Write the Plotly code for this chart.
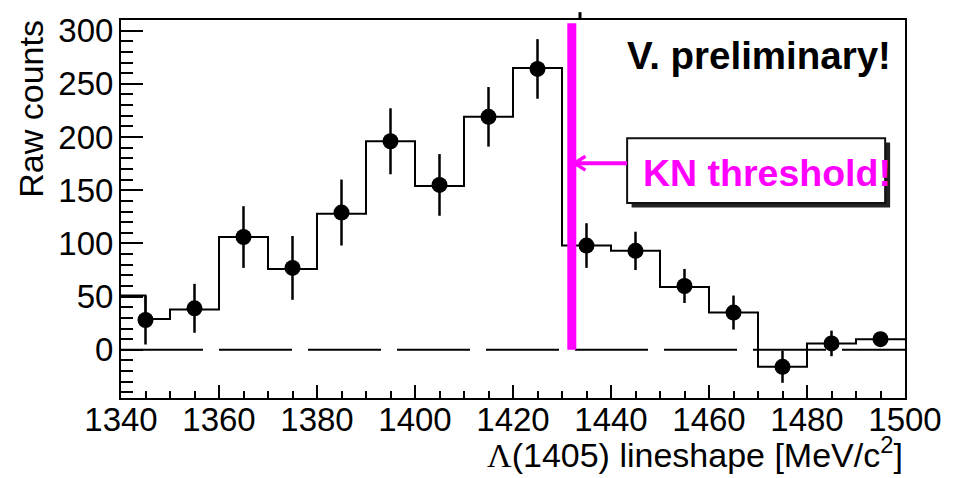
import plotly.graph_objects as go

# ---------------- data ----------------
bin_centers = [1345, 1355, 1365, 1375, 1385, 1395, 1405, 1415, 1425,
               1435, 1445, 1455, 1465, 1475, 1485, 1495]
counts = [28, 39, 106, 77, 129, 196, 155, 219, 264,
          98, 93, 60, 35, -16, 6, 10]
count_errors = [23, 23, 29, 30, 31, 31, 29, 28, 28,
                21, 18, 16, 16, 15, 12, 6]

hist_edges = [1340, 1345, 1350, 1360, 1370, 1380, 1390, 1400, 1410, 1420,
              1430, 1440, 1450, 1460, 1470, 1480, 1490, 1500]
hist_values = [51, 29, 38, 106, 76, 128, 196, 154, 219, 265,
               98, 93, 59, 35, -16, 6, 10]

threshold_mass = 1432
threshold_top = 307

x_range = [1340, 1500]
y_range = [-45.3, 310]

# ---------------- layout helpers (pixel -> paper) ----------------
W, H = 954, 478
PL, PR, PT, PB = 121, 911, 14, 398


def pxx(p):
    return (p - PL) / (PR - PL)


def pxy(p):
    return (PB - p) / (PB - PT)


FONT = "Liberation Sans, Arial, Helvetica, sans-serif"
MAGENTA = "#ff00ff"

fig = go.Figure()

# dashed zero line
dash = "82px,16px," + ",".join(["73px,16px"] * 10)
fig.add_trace(go.Scatter(x=x_range, y=[0, 0], mode="lines",
                         line=dict(color="black", width=2, dash=dash),
                         hoverinfo="skip", showlegend=False))

# step histogram
fig.add_trace(go.Scatter(x=hist_edges, y=hist_values + [hist_values[-1]],
                         mode="lines", line=dict(color="black", width=2, shape="hv"),
                         hoverinfo="skip", showlegend=False))

# threshold line
fig.add_trace(go.Scatter(x=[threshold_mass, threshold_mass], y=[0, threshold_top],
                         mode="lines", line=dict(color=MAGENTA, width=9),
                         hoverinfo="skip", showlegend=False))

# data points with error bars
fig.add_trace(go.Scatter(x=bin_centers, y=counts, mode="markers",
                         marker=dict(color="black", size=16, line=dict(width=0)),
                         error_y=dict(type="data", array=count_errors, visible=True,
                                      color="black", thickness=2.5, width=0),
                         showlegend=False))

shapes = []
# stray tick above frame
shapes.append(dict(type="line", xref="paper", yref="paper",
                   x0=pxx(583.5), x1=pxx(583.5), y0=pxy(6), y1=pxy(14),
                   line=dict(color="black", width=3)))
# label box shadow
shapes.append(dict(type="rect", xref="paper", yref="paper",
                   x0=pxx(635.5), x1=pxx(896), y0=pxy(204.5), y1=pxy(138.5),
                   fillcolor="#222222", line=dict(width=0), layer="above"))
# label box
shapes.append(dict(type="rect", xref="paper", yref="paper",
                   x0=pxx(631), x1=pxx(891), y0=pxy(200), y1=pxy(134),
                   fillcolor="white", line=dict(color="#111111", width=2), layer="above"))
# arrow shaft
shapes.append(dict(type="line", xref="paper", yref="paper",
                   x0=pxx(578), x1=pxx(631), y0=pxy(159.5), y1=pxy(159.5),
                   line=dict(color=MAGENTA, width=4), layer="above"))
# arrow head
shapes.append(dict(type="line", xref="paper", yref="paper",
                   x0=pxx(578), x1=pxx(589), y0=pxy(159.5), y1=pxy(152.5),
                   line=dict(color=MAGENTA, width=3.5), layer="above"))
shapes.append(dict(type="line", xref="paper", yref="paper",
                   x0=pxx(578), x1=pxx(589), y0=pxy(159.5), y1=pxy(166.5),
                   line=dict(color=MAGENTA, width=3.5), layer="above"))

annotations = [
    dict(text="KN threshold!", xref="paper", yref="paper",
         x=pxx(645), y=pxy(169), xanchor="left", yanchor="middle",
         showarrow=False, font=dict(family=FONT, size=37.5, color=MAGENTA, weight="bold")),
    dict(text="V. preliminary!", xref="paper", yref="paper",
         x=pxx(629), y=pxy(50), xanchor="left", yanchor="middle",
         showarrow=False, font=dict(family=FONT, size=38.5, color="black", weight="bold")),
    dict(text="Raw counts", xref="paper", yref="paper",
         x=pxx(30), y=pxy(12), xanchor="center", yanchor="top", textangle=-90,
         showarrow=False, font=dict(family=FONT, size=34, color="black")),
    dict(text="<span style=\"font-family:'Liberation Serif'\">\u039b</span>(1405) lineshape [MeV/c<sup>2</sup>]",
         xref="paper", yref="paper",
         x=pxx(911), y=pxy(453), xanchor="right", yanchor="middle",
         showarrow=False, font=dict(family=FONT, size=34, color="black")),
]

fig.update_layout(
    width=W, height=H,
    margin=dict(l=PL, r=W - PR, t=PT, b=H - PB, pad=0),
    paper_bgcolor="white", plot_bgcolor="white",
    shapes=shapes, annotations=annotations,
    font=dict(family=FONT, color="black"),
)

fig.update_xaxes(range=x_range, showgrid=False, zeroline=False,
                 showline=True, linecolor="black", linewidth=2, mirror=True,
                 ticks="inside", ticklen=13, tickwidth=2, tickcolor="black",
                 tick0=1340, dtick=20, ticklabelstandoff=-9,
                 minor=dict(ticks="inside", ticklen=7, tickwidth=2, tickcolor="black",
                            tick0=1340, dtick=5),
                 tickfont=dict(family=FONT, size=33, color="black"))
fig.update_yaxes(range=y_range, showgrid=False, zeroline=False,
                 showline=True, linecolor="black", linewidth=2, mirror=True,
                 ticks="inside", ticklen=22, tickwidth=2, tickcolor="black",
                 tick0=0, dtick=50, ticklabelstandoff=-1,
                 minor=dict(ticks="inside", ticklen=12, tickwidth=2, tickcolor="black",
                            tick0=0, dtick=10),
                 tickfont=dict(family=FONT, size=33, color="black"))

fig.write_html("out.html", config={"displayModeBar": False},
               post_script="document.body.style.margin='0px';document.body.style.padding='0px';")
